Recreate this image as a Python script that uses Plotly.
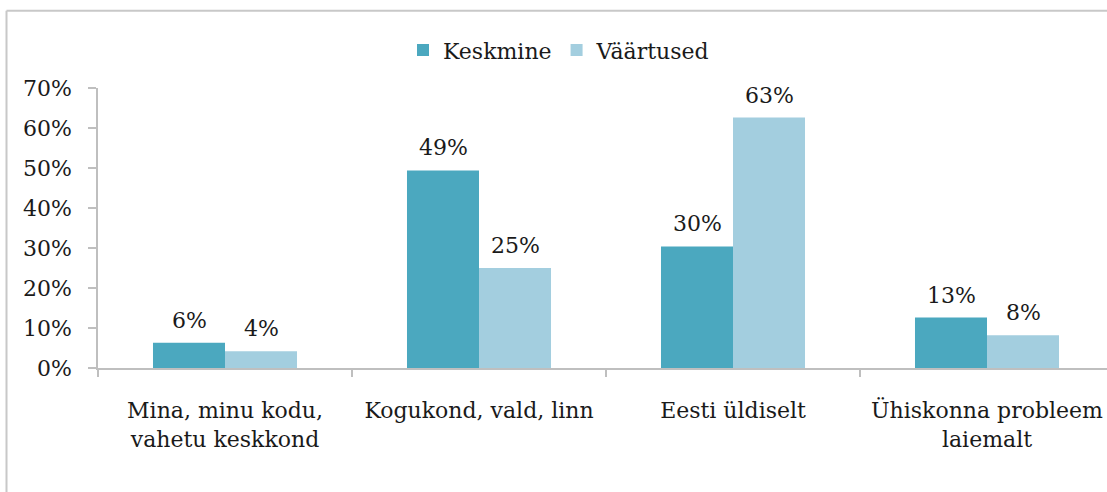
import plotly.graph_objects as go

categories = ["Mina, minu kodu,<br>vahetu keskkond", "Kogukond, vald, linn",
              "Eesti üldiselt", "Ühiskonna probleem<br>laiemalt"]
keskmine = [0.063, 0.494, 0.304, 0.126]
vaartused = [0.042, 0.250, 0.626, 0.082]
series_names = ["Keskmine", "Väärtused"]
colors = ["#4BA8BF", "#A3CEDF"]
ytick_vals = [0, 0.1, 0.2, 0.3, 0.4, 0.5, 0.6, 0.7]

FONT = "DejaVu Serif"
fs = 22
TXT = "#1a1a1a"
BARGAP = 0.433

fig = go.Figure()
for name, vals, col in zip(series_names, [keskmine, vaartused], colors):
    fig.add_trace(go.Bar(
        x=list(range(len(categories))), y=vals, name=name,
        marker=dict(color=col, line=dict(width=0)),
    ))

# value labels above the bars
half = (1 - BARGAP) / 4
for k, vals in enumerate([keskmine, vaartused]):
    off = -half if k == 0 else half
    for i, v in enumerate(vals):
        fig.add_annotation(x=i + off, y=v, text=f"{round(v * 100)}%",
                           showarrow=False, yanchor="bottom", yshift=8,
                           font=dict(family=FONT, size=fs, color=TXT))

L, T = 98, 87.7
W, H = 1107, 492
pw = W - L
ph = 280
B = H - T - ph

fig.update_layout(
    width=W, height=H,
    margin=dict(l=L, r=0, t=T, b=B, autoexpand=False),
    paper_bgcolor="white", plot_bgcolor="white",
    barmode="group", bargap=BARGAP, bargroupgap=0,
    font=dict(family=FONT, size=fs, color=TXT),
    showlegend=True,
    legend=dict(orientation="h", x=(559 - L) / pw, xanchor="center",
                y=1 + (T - 50) / ph, yanchor="middle",
                font=dict(family=FONT, size=fs), itemwidth=30,
                traceorder="normal"),
)
fig.update_xaxes(
    range=[-0.5, 3.5 - 7 / 254],
    tickvals=list(range(len(categories))), ticktext=categories,
    ticks="", showline=True, linecolor="#BFBFBF", linewidth=1.5,
    showgrid=False, ticklabelstandoff=22,
    tickfont=dict(family=FONT, size=fs, color=TXT),
    minor=dict(tickvals=[-0.5, 0.5, 1.5, 2.5], ticks="outside", ticklen=7,
               tickcolor="#BFBFBF", tickwidth=1.5, showgrid=False),
)
fig.update_yaxes(
    range=[0, 0.7], tickvals=ytick_vals, tickformat=".0%",
    ticks="outside", ticklen=8, tickcolor="#BFBFBF", tickwidth=1.5,
    showline=True, linecolor="#BFBFBF", linewidth=1.5,
    showgrid=False, zeroline=False, ticklabelstandoff=12,
    tickfont=dict(family=FONT, size=fs, color=TXT),
)
# chart-area border (only top and left edges visible in the crop)
bx0 = (6.5 - L) / pw
by1 = 1 + (T - 10.5) / ph
border = dict(color="#C8C8C8", width=2)
fig.add_shape(type="line", xref="paper", yref="paper",
              x0=bx0, x1=1.05, y0=by1, y1=by1, line=border, layer="below")
fig.add_shape(type="line", xref="paper", yref="paper",
              x0=bx0, x1=bx0, y0=-0.5, y1=by1, line=border, layer="below")

fig.write_html("out.html",
               config={"displayModeBar": False},
               post_script="document.body.style.margin='0';"
                           "document.body.style.overflow='hidden';")
